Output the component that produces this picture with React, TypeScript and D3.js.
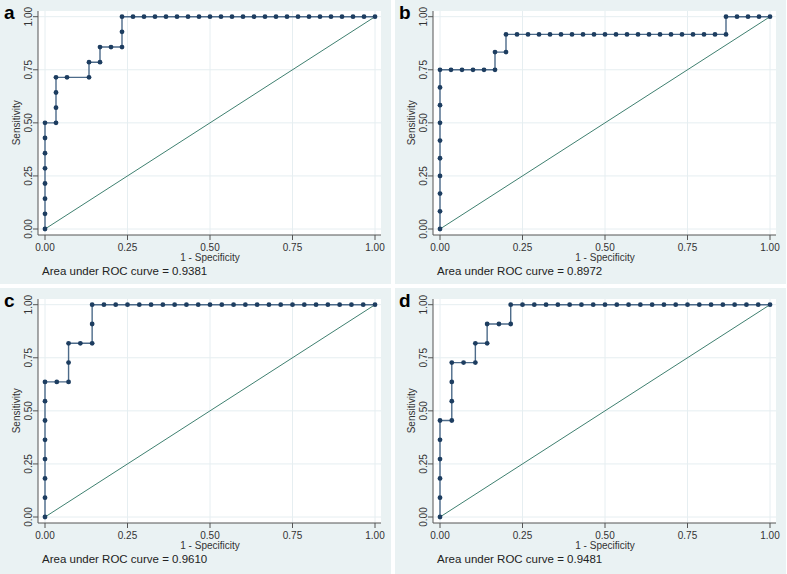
import React from "react";
import * as d3 from "d3";

// ROC points as [false positives, true positives] counts
const rocA: [number, number][] = [
  [0, 0], [0, 1], [0, 2], [0, 3], [0, 4], [0, 5], [0, 6], [0, 7],
  [1, 7], [1, 8], [1, 9], [1, 10], [2, 10], [4, 10], [4, 11], [5, 11], [5, 12], [6, 12], [7, 12], [7, 13], [7, 14],
  [8, 14], [9, 14], [10, 14], [11, 14], [12, 14], [13, 14], [14, 14], [15, 14], [16, 14], [17, 14], [18, 14],
  [19, 14], [20, 14], [21, 14], [22, 14], [23, 14], [24, 14], [25, 14], [26, 14], [27, 14], [28, 14], [29, 14], [30, 14],
];
const rocB: [number, number][] = [
  [0, 0], [0, 1], [0, 2], [0, 3], [0, 4], [0, 5], [0, 6], [0, 7], [0, 8], [0, 9],
  [1, 9], [2, 9], [3, 9], [4, 9], [5, 9], [5, 10], [6, 10], [6, 11],
  [7, 11], [8, 11], [9, 11], [10, 11], [11, 11], [12, 11], [13, 11], [14, 11], [15, 11], [16, 11], [17, 11],
  [18, 11], [19, 11], [20, 11], [21, 11], [22, 11], [23, 11], [24, 11], [25, 11], [26, 11],
  [26, 12], [27, 12], [28, 12], [29, 12], [30, 12],
];
const rocC: [number, number][] = [
  [0, 0], [0, 1], [0, 2], [0, 3], [0, 4], [0, 5], [0, 6], [0, 7],
  [1, 7], [2, 7], [2, 8], [2, 9], [3, 9], [4, 9], [4, 10], [4, 11],
  [5, 11], [6, 11], [7, 11], [8, 11], [9, 11], [10, 11], [11, 11], [12, 11], [13, 11], [14, 11], [15, 11], [16, 11],
  [17, 11], [18, 11], [19, 11], [20, 11], [21, 11], [22, 11], [23, 11], [24, 11], [25, 11], [26, 11], [27, 11], [28, 11],
];
const rocD: [number, number][] = [
  [0, 0], [0, 1], [0, 2], [0, 3], [0, 4], [0, 5],
  [1, 5], [1, 6], [1, 7], [1, 8], [2, 8], [3, 8], [3, 9], [4, 9], [4, 10], [5, 10], [6, 10], [6, 11],
  [7, 11], [8, 11], [9, 11], [10, 11], [11, 11], [12, 11], [13, 11], [14, 11], [15, 11], [16, 11], [17, 11],
  [18, 11], [19, 11], [20, 11], [21, 11], [22, 11], [23, 11], [24, 11], [25, 11], [26, 11], [27, 11], [28, 11],
];

const panelLetters = ["a", "b", "c", "d"];
const negatives = [30, 30, 28, 28];
const positives = [14, 12, 11, 11];
const aucLabels = ["0.9381", "0.8972", "0.9610", "0.9481"];
const tickValues = [0, 0.25, 0.5, 0.75, 1];
const tickLabels = ["0.00", "0.25", "0.50", "0.75", "1.00"];
const rocs = [rocA, rocB, rocC, rocD];

const FONT = "'Liberation Sans', Arial, sans-serif";
const BG = "#eaf2f3";
const GRID = "#e6eef1";
const AXIS = "#555";
const LINE = "#4d6b8a";
const DOT = "#1d3d60";
const DIAG = "#3f8070";

function Panel({ idx, ox, oy, h }: { idx: number; ox: number; oy: number; h: number }) {
  const x = d3.scaleLinear().domain([0, 1]).range([45, 375]);
  const y = d3.scaleLinear().domain([0, 1]).range([229, 16.7]);
  const pts = rocs[idx].map(([fp, tp]) => [fp / negatives[idx], tp / positives[idx]] as [number, number]);
  const line = d3.line<[number, number]>().x((d) => x(d[0])).y((d) => y(d[1]));
  const pl = 38, pr = 381, pt = 11, pb = 235;
  return (
    <g transform={`translate(${ox},${oy})`}>
      <rect x={0} y={0} width={391} height={h} fill={BG} />
      <rect x={pl} y={pt} width={pr - pl} height={pb - pt} fill="#fff" />
      {tickValues.map((t, i) => (
        <g key={"g" + i}>
          <line x1={x(t)} x2={x(t)} y1={pt} y2={pb} stroke={GRID} strokeWidth={1} />
          <line x1={pl} x2={pr} y1={y(t)} y2={y(t)} stroke={GRID} strokeWidth={1} />
        </g>
      ))}
      <path d={line([[0, 0], [1, 1]]) || ""} stroke={DIAG} strokeWidth={1} fill="none" />
      <path d={line(pts) || ""} stroke={LINE} strokeWidth={1.4} fill="none" />
      {pts.map((p, i) => (
        <circle key={i} cx={x(p[0])} cy={y(p[1])} r={2.4} fill={DOT} />
      ))}
      <line x1={pl} x2={pl} y1={pt} y2={pb} stroke={AXIS} strokeWidth={1} />
      <line x1={pl} x2={pr} y1={pb} y2={pb} stroke={AXIS} strokeWidth={1} />
      {tickValues.map((t, i) => (
        <g key={"t" + i}>
          <line x1={pl - 5} x2={pl} y1={y(t)} y2={y(t)} stroke={AXIS} strokeWidth={1} />
          <text
            transform={`translate(32,${y(t)}) rotate(-90)`}
            textAnchor="middle"
            fontFamily={FONT}
            fontSize={10}
            fill="#333"
          >
            {tickLabels[i]}
          </text>
          <line x1={x(t)} x2={x(t)} y1={pb} y2={pb + 5} stroke={AXIS} strokeWidth={1} />
          <text x={x(t)} y={250.7} textAnchor="middle" fontFamily={FONT} fontSize={10} fill="#333">
            {tickLabels[i]}
          </text>
        </g>
      ))}
      <text
        transform={`translate(19.5,${(y(0) + y(1)) / 2}) rotate(-90)`}
        textAnchor="middle"
        fontFamily={FONT}
        fontSize={10}
        fill="#333"
      >
        Sensitivity
      </text>
      <text x={(x(0) + x(1)) / 2} y={260.5} textAnchor="middle" fontFamily={FONT} fontSize={10} fill="#333">
        1 - Specificity
      </text>
      <text x={42} y={274.5} fontFamily={FONT} fontSize={11.5} fill="#222">
        {`Area under ROC curve = ${aucLabels[idx]}`}
      </text>
      <text x={4} y={18.5} fontFamily={FONT} fontSize={19} fontWeight="bold" fill="#000">
        {panelLetters[idx]}
      </text>
    </g>
  );
}

export default function App() {
  return (
    <svg
      width={787}
      height={574}
      style={{ position: "absolute", left: 0, top: 0, background: "#fff" }}
    >
      <Panel idx={0} ox={0} oy={0} h={284} />
      <Panel idx={1} ox={395} oy={0} h={284} />
      <Panel idx={2} ox={0} oy={288} h={286} />
      <Panel idx={3} ox={395} oy={288} h={286} />
    </svg>
  );
}
